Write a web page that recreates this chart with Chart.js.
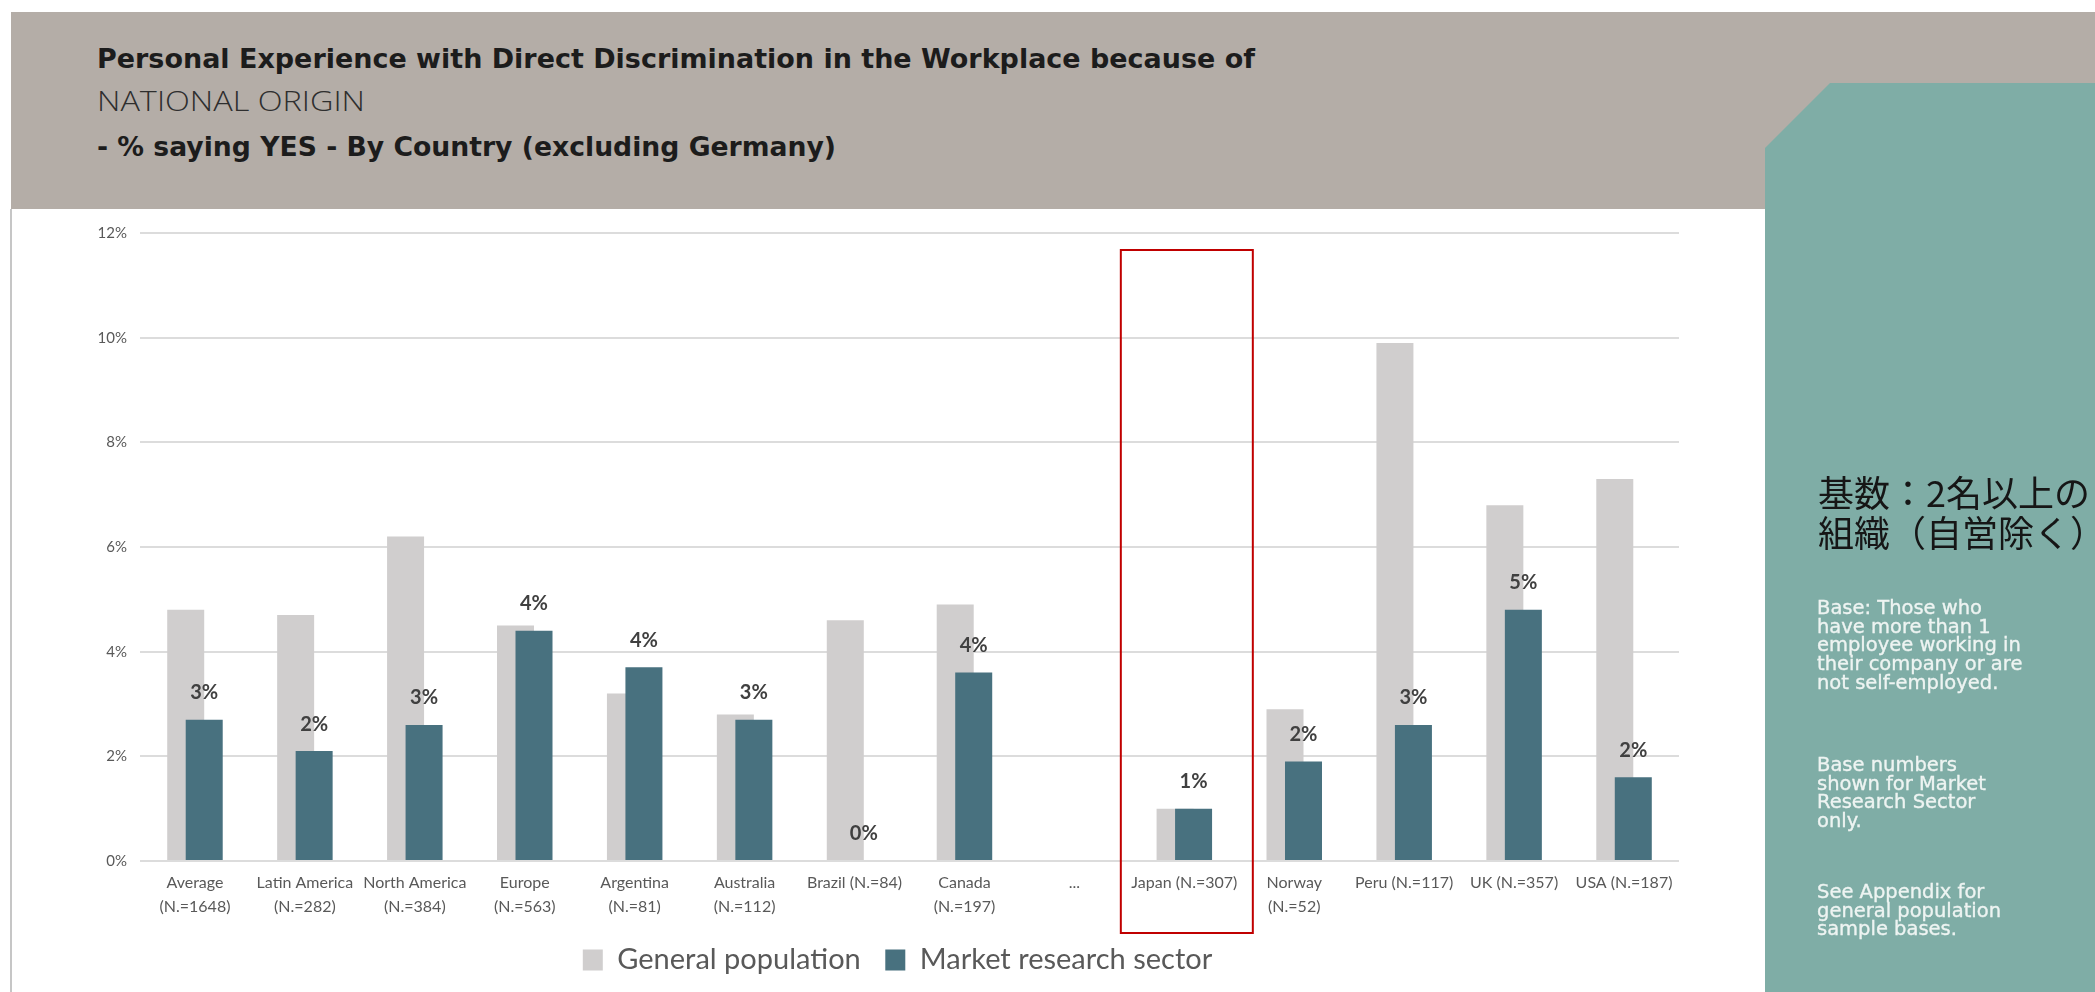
<!DOCTYPE html>
<html>
<head>
<meta charset="utf-8">
<title>Personal Experience with Direct Discrimination — National Origin</title>
<script src="https://cdn.jsdelivr.net/npm/chart.js@4.4.1/dist/chart.umd.min.js"></script>
<style>
  html, body { margin: 0; padding: 0; }
  body {
    width: 2095px; height: 992px; overflow: hidden; position: relative;
    background: #ffffff; font-family: 'DejaVu Sans', sans-serif;
  }
  .band { position: absolute; left: 11px; top: 12px; width: 2084px; height: 197px; background: #b4ada7; }
  .edge { position: absolute; left: 10px; top: 209px; width: 2px; height: 783px; background: #c6c6c6; }
  .t { position: absolute; left: 97px; white-space: nowrap; transform-origin: 0 0; }
  .t1 { top: 45px; font: bold 27px/27px 'DejaVu Sans', sans-serif; color: #1c1c1c; }
  .t2 { top: 86px; font: 300 28px/28px 'Open Sans', sans-serif; color: #2e2e2e; }
  .t3 { top: 133px; font: bold 27px/27px 'DejaVu Sans', sans-serif; color: #1c1c1c; }
  .chart-box { position: absolute; left: 11px; top: 209px; width: 1773px; height: 783px; }
  .panel {
    position: absolute; left: 1765px; top: 83px; width: 330px; height: 909px;
    background: #7fada6;
    clip-path: polygon(65px 0, 100% 0, 100% 100%, 0 100%, 0 65px);
  }
  .jp {
    position: absolute; left: 1818px; top: 471px; white-space: nowrap;
    font: 36px/40px 'Noto Sans CJK JP', sans-serif; color: #161616;
  }
  .note {
    position: absolute; left: 1817px; white-space: nowrap;
    font: 19.5px/18.7px 'DejaVu Sans', sans-serif; color: #eef4f2;
    -webkit-text-stroke: 0.35px #eef4f2;
  }
</style>
</head>
<body>
<div class="band"></div>
<div class="edge"></div>
<div class="t t1" data-w="1158">Personal Experience with Direct Discrimination in the Workplace because of</div>
<div class="t t2" data-w="268">NATIONAL ORIGIN</div>
<div class="t t3" data-w="739">- % saying YES - By Country (excluding Germany)</div>

<div class="chart-box"><canvas id="chart" width="1773" height="783"></canvas></div>

<div class="panel"></div>
<div class="jp">基数：2名以上の<br>組織（自営除く）</div>
<div class="note" style="top:599px">Base: Those who<br>have more than 1<br>employee working in<br>their company or are<br>not self-employed.</div>
<div class="note" style="top:756px">Base numbers<br>shown for Market<br>Research Sector<br>only.</div>
<div class="note" style="top:883px">See Appendix for<br>general population<br>sample bases.</div>

<script>
// Categories (sample sizes refer to the market research sector)
const categories = [
  ['Average', '(N.=1648)'],
  ['Latin America', '(N.=282)'],
  ['North America', '(N.=384)'],
  ['Europe', '(N.=563)'],
  ['Argentina', '(N.=81)'],
  ['Australia', '(N.=112)'],
  'Brazil (N.=84)',
  ['Canada', '(N.=197)'],
  '...',
  'Japan (N.=307)',
  ['Norway', '(N.=52)'],
  'Peru (N.=117)',
  'UK (N.=357)',
  'USA (N.=187)'
];

// % saying YES
const generalPopulation = [4.8, 4.7, 6.2, 4.5, 3.2, 2.8, 4.6, 4.9, null, 1.0, 2.9, 9.9, 6.8, 7.3];
const marketResearch    = [2.7, 2.1, 2.6, 4.4, 3.7, 2.7, 0.0, 3.6, null, 1.0, 1.9, 2.6, 4.8, 1.6];

const seriesNames = ['General population', 'Market research sector'];
const yTicks = [0, 2, 4, 6, 8, 10, 12];
const highlightCategory = 'Japan (N.=307)';

// Fit each header line to its set width
function fitHeader() {
  document.querySelectorAll('[data-w]').forEach(el => {
    const w = el.getBoundingClientRect().width;
    el.style.transform = 'scaleX(' + (Number(el.dataset.w) / w) + ')';
  });
}

// Market research bars are painted after the general population bars so they sit in front
const frontBars = {
  id: 'frontBars',
  beforeDatasetDraw(chart, args) {
    if (args.index === 1) return false;
  },
  afterDatasetsDraw(chart) {
    const meta = chart.getDatasetMeta(1);
    if (meta.visible !== false) meta.controller.draw();
  }
};

// Rounded percentage above each market research bar
const valueLabels = {
  id: 'valueLabels',
  afterDatasetsDraw(chart) {
    const { ctx } = chart;
    const meta = chart.getDatasetMeta(1);
    ctx.save();
    ctx.font = 'bold 20px Lato';
    ctx.fillStyle = '#404040';
    ctx.textAlign = 'center';
    ctx.textBaseline = 'middle';
    meta.data.forEach((bar, i) => {
      const v = marketResearch[i];
      if (v === null || v === undefined) return;
      ctx.fillText(Math.round(v) + '%', bar.x, bar.y - 27);
    });
    ctx.restore();
  }
};

// Red frame around the highlighted country
const highlightFrame = {
  id: 'highlightFrame',
  afterDraw(chart) {
    const idx = categories.indexOf(highlightCategory);
    if (idx < 0) return;
    const { ctx, chartArea } = chart;
    const xs = chart.scales.x, ys = chart.scales.y;
    const cx = xs.getPixelForValue(idx) + 2.5;
    const top = ys.getPixelForValue(12) + 17;
    const bottom = chartArea.bottom + 72;
    ctx.save();
    ctx.strokeStyle = '#c00000';
    ctx.lineWidth = 2;
    ctx.strokeRect(cx - 66, top, 132, bottom - top);
    ctx.restore();
  }
};

function build() {
  fitHeader();
  new Chart(document.getElementById('chart'), {
    type: 'bar',
    data: {
      labels: categories,
      datasets: [
        {
          label: seriesNames[0],
          data: generalPopulation,
          backgroundColor: '#d0cece',
          categoryPercentage: 0.3366,
          barPercentage: 2.0
        },
        {
          label: seriesNames[1],
          data: marketResearch,
          backgroundColor: '#48717f',
          categoryPercentage: 0.3366,
          barPercentage: 2.0
        }
      ]
    },
    options: {
      responsive: false,
      animation: false,
      events: [],
      layout: { padding: { top: 24, bottom: 7.5, left: 0, right: 0 } },
      plugins: {
        tooltip: { enabled: false },
        legend: {
          position: 'bottom',
          labels: {
            boxWidth: 20,
            boxHeight: 21,
            padding: 24.5,
            color: '#595959',
            font: { family: 'Lato', size: 29 }
          }
        }
      },
      scales: {
        x: {
          grid: { display: false, drawTicks: false },
          border: { display: false },
          ticks: {
            autoSkip: false,
            maxRotation: 0,
            minRotation: 0,
            padding: 10,
            color: '#595959',
            font: { family: 'Lato', size: 16, lineHeight: 1.5 }
          },
          afterFit(s) { s.height = 60; }
        },
        y: {
          min: 0,
          max: 12,
          afterBuildTicks(s) { s.ticks = yTicks.map(v => ({ value: v })); },
          grid: { color: '#dcdcdc', lineWidth: 2, drawTicks: false },
          border: { display: false },
          ticks: {
            padding: 13,
            color: '#595959',
            font: { family: 'Lato', size: 15 },
            callback: v => v + '%'
          },
          afterFit(s) { s.width = 129; }
        },
        spacer: {
          type: 'linear',
          position: 'right',
          display: true,
          grid: { display: false, drawTicks: false },
          border: { display: false },
          ticks: { display: false },
          afterFit(s) { s.width = 105; }
        }
      }
    },
    plugins: [frontBars, valueLabels, highlightFrame]
  });
}

const fontLoads = [
  '16px Lato', 'bold 20px Lato', 'bold 27px "DejaVu Sans"',
  '300 28px "Open Sans"', '36px "Noto Sans CJK JP"'
].map(f => document.fonts.load(f).catch(() => null));
Promise.all(fontLoads).then(build, build);
</script>
</body>
</html>
